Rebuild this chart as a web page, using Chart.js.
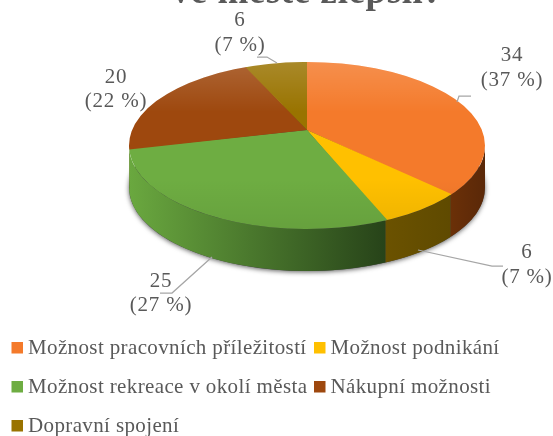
<!DOCTYPE html>
<html><head><meta charset="utf-8">
<style>html,body{margin:0;padding:0;background:#fff}#w{width:553px;height:436px}</style>
<script src="https://cdn.jsdelivr.net/npm/chart.js@4"></script></head>
<body><div id="w"><canvas id="c"></canvas></div>
<script>
const categories=["Možnost pracovních příležitostí","Možnost podnikání","Možnost rekreace v okolí města","Nákupní možnosti","Dopravní spojení"];
const values=[34,6,25,20,6];
const percents=[37,7,27,22,7];
const colors=["#F47A2B","#FFC000","#6EAD42","#9E480E","#997300"];
const wallLeft=["#6b3008","#6b5200","#6aa83f","#5e2a08","#5c4500"];
const wallRight=["#5a2808","#5f4a00","#274319","#5e2a08","#5c4500"];
const titleText="ve městě zlepšil?";
const pointLabelAt=[[512,55,80],[527,252,277],[161,281,305],[116,77,101],[240,20,45]];
const leaders=[[[471,96],[459,96],[457,102]],[[503,266],[492,266],[418,250]],[[160,293],[172,293],[212,257]],[],[[257,57],[267,57],[277,63]]];
const legendAt=[[11.5,348],[314,348],[11.5,387],[314,387],[11.5,426]];
const E={cx:307,cy:145.5,rx:178,ry:83.5,d:0.186,depth:42};
const textGrey="#595959";

function project(theta){
  const s=Math.cos(theta), y=Math.sin(theta), k=1-E.d*y;
  return {x:s*Math.sqrt(1-E.d*E.d)/k, y:(y-E.d)/k};
}
const px=p=>E.cx+p.x*E.rx, py=p=>E.cy+p.y*E.ry;

const pie3d={id:'pie3d',
  beforeDatasetsDraw(chart){
    const ctx=chart.ctx, arcs=chart.getDatasetMeta(0).data;
    ctx.save();
    ctx.shadowColor='rgba(0,0,0,0.65)';ctx.shadowBlur=5;ctx.shadowOffsetY=1;
    ctx.fillStyle='#444';
    ctx.beginPath();ctx.ellipse(E.cx,E.cy+E.depth,E.rx,E.ry,0,0,Math.PI*2);ctx.fill();
    ctx.restore();
    arcs.forEach((a,i)=>{
      let p0=project(a.startAngle), p1=project(a.endAngle);
      let t0=Math.atan2(p0.y,p0.x), t1=Math.atan2(p1.y,p1.x);
      if(t1<t0) t1+=Math.PI*2;
      const lo=Math.max(t0,0), hi=Math.min(t1,Math.PI);
      if(hi<=lo) return;
      const xa=E.cx+E.rx*Math.cos(hi), xb=E.cx+E.rx*Math.cos(lo);
      const g=ctx.createLinearGradient(xa,0,xb,0);
      g.addColorStop(0,wallLeft[i]);g.addColorStop(1,wallRight[i]);
      ctx.fillStyle=g;
      ctx.beginPath();
      ctx.ellipse(E.cx,E.cy,E.rx,E.ry,0,lo,hi);
      ctx.ellipse(E.cx,E.cy+E.depth,E.rx,E.ry,0,hi,lo,true);
      ctx.closePath();ctx.fill();
    });
    const apex={x:E.cx,y:E.cy-E.d*E.ry};
    arcs.forEach((a)=>{
      const st=a.startAngle,en=a.endAngle,circ=a.circumference,from=st-0.01;
      ctx.save();
      ctx.beginPath();ctx.moveTo(apex.x,apex.y);
      for(let j=0;j<=12;j++){
        const p=project(from+(en-from)*j/12);
        ctx.lineTo(apex.x+(px(p)-apex.x)*1.5,apex.y+(py(p)-apex.y)*1.5);
      }
      ctx.closePath();ctx.clip();
      ctx.translate(E.cx,E.cy);ctx.scale(E.rx/a.outerRadius,E.ry/a.outerRadius);ctx.translate(-a.x,-a.y);
      a.endAngle=st+Math.PI*2;a.circumference=Math.PI*2;
      a.draw(ctx);
      a.endAngle=en;a.circumference=circ;
      ctx.restore();
    });
    ctx.save();
    const g=ctx.createLinearGradient(0,E.cy-E.ry,0,E.cy+E.ry);
    g.addColorStop(0,'rgba(255,255,255,0.16)');g.addColorStop(0.3,'rgba(255,255,255,0)');
    g.addColorStop(0.7,'rgba(0,0,0,0)');g.addColorStop(1,'rgba(0,0,0,0.07)');
    ctx.fillStyle=g;ctx.beginPath();ctx.ellipse(E.cx,E.cy,E.rx,E.ry,0,0,Math.PI*2);ctx.fill();
    ctx.restore();
    return false;
  },
  afterDraw(chart){
    const ctx=chart.ctx;
    ctx.save();
    ctx.strokeStyle='#a6a6a6';ctx.lineWidth=1.25;
    leaders.forEach(l=>{if(!l.length)return;ctx.beginPath();l.forEach((p,j)=>j?ctx.lineTo(p[0],p[1]):ctx.moveTo(p[0],p[1]));ctx.stroke();});
    ctx.fillStyle=textGrey;ctx.textAlign='center';ctx.textBaseline='middle';
    ctx.font='21px "Liberation Serif"';ctx.letterSpacing='0.8px';
    values.forEach((v,i)=>{
      const [x,y0,y1]=pointLabelAt[i];
      ctx.fillText(String(v),x,y0);
      ctx.fillText('('+percents[i]+' %)',x,y1);
    });
    ctx.font='bold 37px "Liberation Serif"';ctx.textBaseline='alphabetic';ctx.letterSpacing='0.6px';
    ctx.fillText(titleText,307,2.5);
    // legend
    ctx.font='21px "Liberation Serif"';ctx.letterSpacing='0.37px';ctx.textAlign='left';ctx.textBaseline='middle';
    categories.forEach((name,i)=>{
      const [x,y]=legendAt[i];
      ctx.fillStyle=colors[i];ctx.fillRect(x,y-6,11.5,11.5);
      ctx.fillStyle=textGrey;ctx.fillText(name,x+16.5,y);
    });
    ctx.restore();
  }
};
new Chart(document.getElementById('c'),{
  type:'pie',
  data:{labels:categories,datasets:[{data:values,backgroundColor:colors,borderWidth:0}]},
  options:{responsive:true,maintainAspectRatio:false,animation:false,
    plugins:{title:{display:false},tooltip:{enabled:false},legend:{display:false}}},
  plugins:[pie3d]
});
</script></body></html>
